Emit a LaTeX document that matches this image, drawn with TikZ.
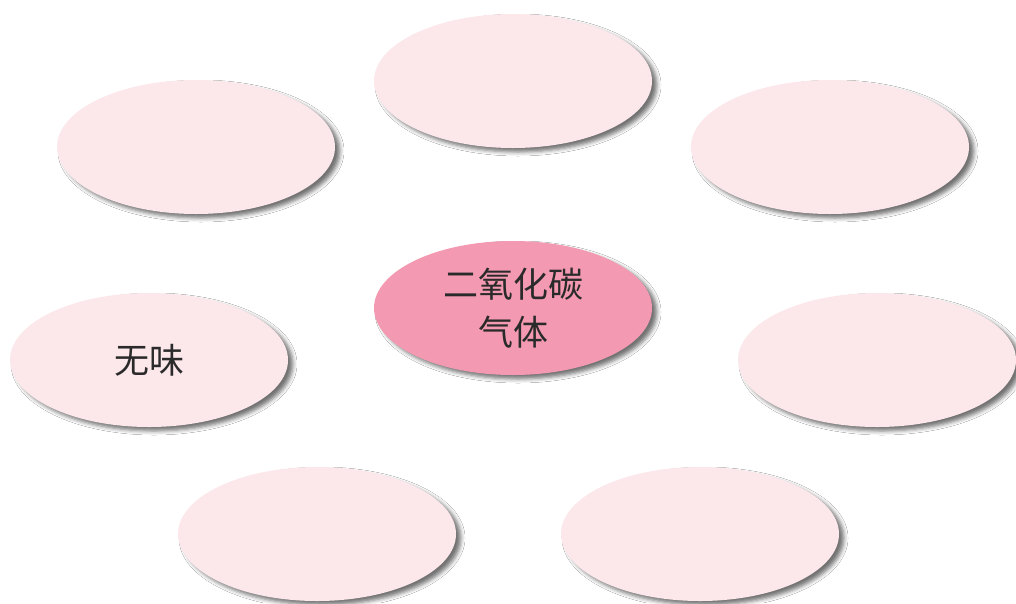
\documentclass[tikz,border=0pt]{standalone}
\usepackage{fontspec}
\newfontfamily\cjk{Noto Sans CJK SC}
\usetikzlibrary{shapes.geometric,shadows.blur}
\definecolor{lightpink}{HTML}{FCE7EB}
\definecolor{deeppink}{HTML}{F39AB2}
\definecolor{inktext}{HTML}{2A2A2A}
\tikzset{
  bubble/.style={ellipse, minimum width=278pt, minimum height=134pt, inner sep=0pt,
    fill=lightpink, font=\cjk\fontsize{35}{48}\selectfont, text=inktext, align=center,
    blur shadow={shadow xshift=5pt, shadow yshift=-4pt, shadow blur radius=4pt, shadow opacity=55}},
  centerbubble/.style={bubble, fill=deeppink}
}
\begin{document}
\begin{tikzpicture}[x=1pt,y=-1pt]
\useasboundingbox (0,0) rectangle (1016,603);
\fill[white] (0,0) rectangle (1016,603);
\node[bubble] (top) at (513,81) {};
\node[bubble] (ul) at (196,147) {};
\node[bubble] (ur) at (830,147) {};
\node[centerbubble] (c) at (513,308) {二氧化碳\\气体};
\node[bubble] (l) at (149,360) {无味};
\node[bubble] (r) at (877,360) {};
\node[bubble] (bl) at (317,534) {};
\node[bubble] (br) at (700,534) {};
\end{tikzpicture}
\end{document}
